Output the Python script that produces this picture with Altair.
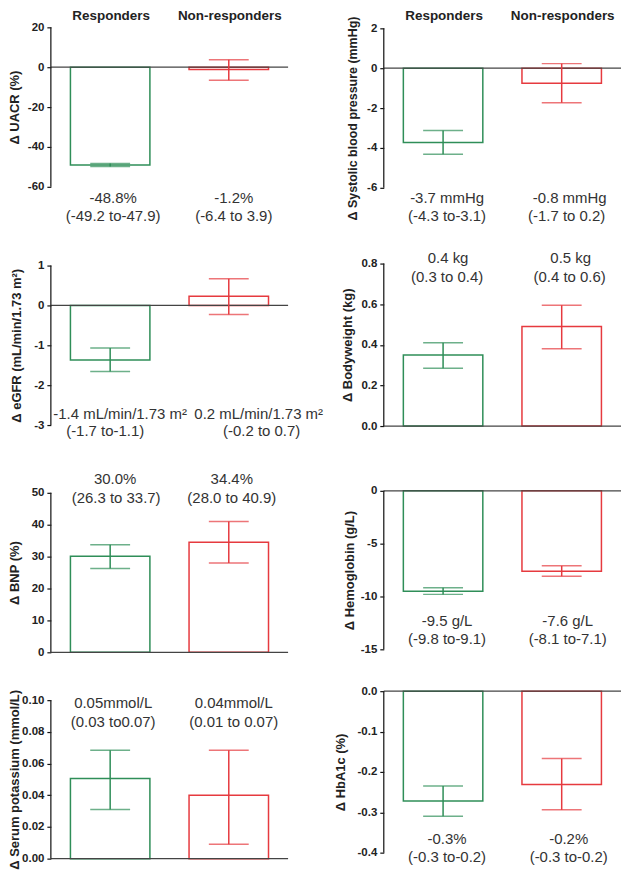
import altair as alt
import pandas as pd

groups = ["Responders", "Non-responders"]
GREEN = "#2f8e58"
RED = "#e63a3f"
FONT = "Liberation Sans"

# ---- data ----
uacr_mean = [-49.0, -1.2]
uacr_cil = [-49.8, -6.5]
uacr_cih = [-48.3, 3.8]
uacr_t1 = ["-48.8%", "-1.2%"]
uacr_t2 = ["(-49.2 to-47.9)", "(-6.4 to 3.9)"]

sbp_mean = [-3.73, -0.75]
sbp_cil = [-4.32, -1.73]
sbp_cih = [-3.13, 0.23]
sbp_t1 = ["-3.7 mmHg", "-0.8 mmHg"]
sbp_t2 = ["(-4.3 to-3.1)", "(-1.7 to 0.2)"]

egfr_mean = [-1.37, 0.23]
egfr_cil = [-1.66, -0.23]
egfr_cih = [-1.07, 0.67]
egfr_t1 = ["-1.4 mL/min/1.73 m\u00b2", "0.2 mL/min/1.73 m\u00b2"]
egfr_t2 = ["(-1.7 to-1.1)", "(-0.2 to 0.7)"]

bw_mean = [0.35, 0.49]
bw_cil = [0.285, 0.38]
bw_cih = [0.41, 0.595]
bw_t1 = ["0.4 kg", "0.5 kg"]
bw_t2 = ["(0.3 to 0.4)", "(0.4 to 0.6)"]

bnp_mean = [30.1, 34.5]
bnp_cil = [26.25, 28.0]
bnp_cih = [33.75, 41.0]
bnp_t1 = ["30.0%", "34.4%"]
bnp_t2 = ["(26.3 to 33.7)", "(28.0 to 40.9)"]

hgb_mean = [-9.5, -7.6]
hgb_cil = [-9.8, -8.08]
hgb_cih = [-9.18, -7.1]
hgb_t1 = ["-9.5 g/L", "-7.6 g/L"]
hgb_t2 = ["(-9.8 to-9.1)", "(-8.1 to-7.1)"]

k_mean = [0.0505, 0.040]
k_cil = [0.031, 0.009]
k_cih = [0.0684, 0.0684]
k_t1 = ["0.05mmol/L", "0.04mmol/L"]
k_t2 = ["(0.03 to0.07)", "(0.01 to 0.07)"]

a1c_mean = [-0.272, -0.231]
a1c_cil = [-0.31, -0.294]
a1c_cih = [-0.235, -0.167]
a1c_t1 = ["-0.3%", "-0.2%"]
a1c_t2 = ["(-0.3 to-0.2)", "(-0.3 to-0.2)"]

# ---- layout ----
W = 238
B = [20, 226, 462, 676, 866]  # row boundaries (page px)

panels = [
    dict(row=0, title="\u0394 UACR (%)", lo=-60, hi=20, ticks=[-60, -40, -20, 0, 20], fmt="d",
         top=27, bot=187, tx=-34, ty=0, tfs=13, a1=198, a2=216, mean=uacr_mean, cil=uacr_cil, cih=uacr_cih,
         t1=uacr_t1, t2=uacr_t2, header=True, dx=[[3, 3], [5, 5]]),
    dict(row=0, title="\u0394 Systolic blood pressure (mmHg)", lo=-6, hi=2, ticks=[-6, -4, -2, 0, 2], fmt="d",
         top=28, bot=188, tx=-29, ty=10, tfs=12.5, a1=198, a2=216, mean=sbp_mean, cil=sbp_cil, cih=sbp_cih,
         t1=sbp_t1, t2=sbp_t2, header=True, dx=[[4, 4], [8, 5]]),
    dict(row=1, title="\u0394 eGFR (mL/min/1.73 m\u00b2)", lo=-3, hi=1, ticks=[-3, -2, -1, 0, 1], fmt="d",
         top=266, bot=426, tx=-32, ty=0, tfs=13, a1=415, a2=432, mean=egfr_mean, cil=egfr_cil, cih=egfr_cih,
         t1=egfr_t1, t2=egfr_t2, header=False, dx=[[10, -5], [30, 33]]),
    dict(row=1, title="\u0394 Bodyweight (kg)", lo=0, hi=0.8, ticks=[0, 0.2, 0.4, 0.6, 0.8], fmt=".1f",
         top=264, bot=427, tx=-34, ty=0, tfs=13, a1=258, a2=277, mean=bw_mean, cil=bw_cil, cih=bw_cih,
         t1=bw_t1, t2=bw_t2, header=False, dx=[[5, 4], [9, 8]]),
    dict(row=2, title="\u0394 BNP (%)", lo=0, hi=50, ticks=[0, 10, 20, 30, 40, 50], fmt="d",
         top=494, bot=654, tx=-34, ty=0, tfs=13, a1=480, a2=499, mean=bnp_mean, cil=bnp_cil, cih=bnp_cih,
         t1=bnp_t1, t2=bnp_t2, header=False, dx=[[5, 6], [3, 3]]),
    dict(row=2, title="\u0394 Hemoglobin (g/L)", lo=-15, hi=0, ticks=[-15, -10, -5, 0], fmt="d",
         top=492, bot=651, tx=-32, ty=0, tfs=13, a1=623, a2=641, mean=hgb_mean, cil=hgb_cil, cih=hgb_cih,
         t1=hgb_t1, t2=hgb_t2, header=False, dx=[[4, 4], [6, 6]]),
    dict(row=3, title="\u0394 Serum potassium (mmol/L)", lo=0, hi=0.1, ticks=[0, 0.02, 0.04, 0.06, 0.08, 0.1], fmt=".2f",
         top=702, bot=861, tx=-34, ty=0, tfs=13, a1=705, a2=724, mean=k_mean, cil=k_cil, cih=k_cih,
         t1=k_t1, t2=k_t2, header=False, dx=[[3, 3], [5, 5]]),
    dict(row=3, title="\u0394 HbA1c (%)", lo=-0.4, hi=0, ticks=[-0.4, -0.3, -0.2, -0.1, 0], fmt=".1f",
         top=693, bot=855, tx=-41, ty=0, tfs=13, a1=841, a2=859, mean=a1c_mean, cil=a1c_cil, cih=a1c_cih,
         t1=a1c_t1, t2=a1c_t2, header=False, dx=[[4, 4], [7, 7]]),
]

color_scale = alt.Scale(domain=groups, range=[GREEN, RED])
x_scale = alt.Scale(domain=groups, paddingInner=0.33, paddingOuter=0.165)
MINUS = "\u2212"


def make_panel(p):
    r = p["row"]
    H = B[r + 1] - B[r]
    off = p["top"] - B[r]
    vis = p["bot"] - p["top"]
    u = (p["hi"] - p["lo"]) / vis
    dom = [p["lo"] - (H - off - vis) * u, p["hi"] + off * u]
    ys = alt.Scale(domain=dom, nice=False, zero=False)
    ya = alt.Axis(values=p["ticks"], format=p["fmt"], labelExpr=f"replace(datum.label, '{MINUS}', '-')",
                  title=p["title"], titleX=p["tx"] + 5, titleY=off + vis / 2 + p["ty"],
                  domain=False, grid=False, tickSize=4, tickWidth=1.2, tickColor="#111",
                  labelFont=FONT, labelFontSize=11.5, labelFontWeight="bold", labelColor="#222",
                  labelPadding=3, titleFont=FONT, titleFontSize=p["tfs"], titleFontWeight="bold",
                  titleColor="#222")

    def ypos(page_y):
        return p["hi"] - (page_y - p["top"]) * u

    df = pd.DataFrame({"group": groups, "mean": p["mean"], "lo": p["cil"], "hi": p["cih"],
                       "l1": p["t1"], "l2": p["t2"]})
    one = pd.DataFrame({"k": [0]})
    X = alt.X("group:N", sort=groups, scale=x_scale, axis=None)
    col = alt.Color("group:N", scale=color_scale, legend=None)

    bars = alt.Chart(df).mark_bar(fill="white", strokeWidth=1.5).encode(
        x=X, y=alt.Y("mean:Q", scale=ys, axis=ya), y2=alt.datum(0),
        stroke=alt.Stroke("group:N", scale=color_scale, legend=None))
    zero = alt.Chart(one).mark_rule(color="#444", strokeWidth=1.3).encode(
        x=alt.value(0), x2=alt.value(W), y=alt.YDatum(0, scale=ys, axis=ya))
    yline = alt.Chart(one).mark_rule(color="#222", strokeWidth=1.3).encode(
        x=alt.value(0), y=alt.YDatum(p["lo"], scale=ys, axis=ya), y2=alt.datum(p["hi"]))
    err = alt.Chart(df).mark_rule(strokeWidth=1.5).encode(
        x=X, y=alt.Y("lo:Q", scale=ys, axis=ya), y2="hi:Q", color=col)
    cap_lo = alt.Chart(df).mark_tick(thickness=1.5, size=40).encode(
        x=X, y=alt.Y("lo:Q", scale=ys, axis=ya), color=col)
    cap_hi = alt.Chart(df).mark_tick(thickness=1.5, size=40).encode(
        x=X, y=alt.Y("hi:Q", scale=ys, axis=ya), color=col)

    layers = [bars, zero, yline, err, cap_lo, cap_hi]
    for i in range(2):
        sub = df.iloc[[i]]
        for j, (fld, py) in enumerate([("l1", p["a1"]), ("l2", p["a2"])]):
            layers.append(
                alt.Chart(sub).mark_text(font=FONT, fontSize=15, color="#333", dx=p["dx"][i][j]).encode(
                    x=X, y=alt.YDatum(ypos(py), scale=ys, axis=ya), text=f"{fld}:N"))
    if p["header"]:
        layers.append(
            alt.Chart(df).mark_text(font=FONT, fontSize=13.5, fontWeight="bold", color="#222", dx=1).encode(
                x=X, y=alt.YDatum(ypos(16), scale=ys, axis=ya), text="group:N"))
    return alt.layer(*layers).properties(width=W, height=H)


chart = alt.concat(*[make_panel(p) for p in panels], columns=2,
                   spacing={"row": 0, "column": 96}, bounds="flush", align="each").configure_view(
    stroke=None).properties(padding=0)

chart.save("out.html", embed_options={"renderer": "svg", "actions": False})
